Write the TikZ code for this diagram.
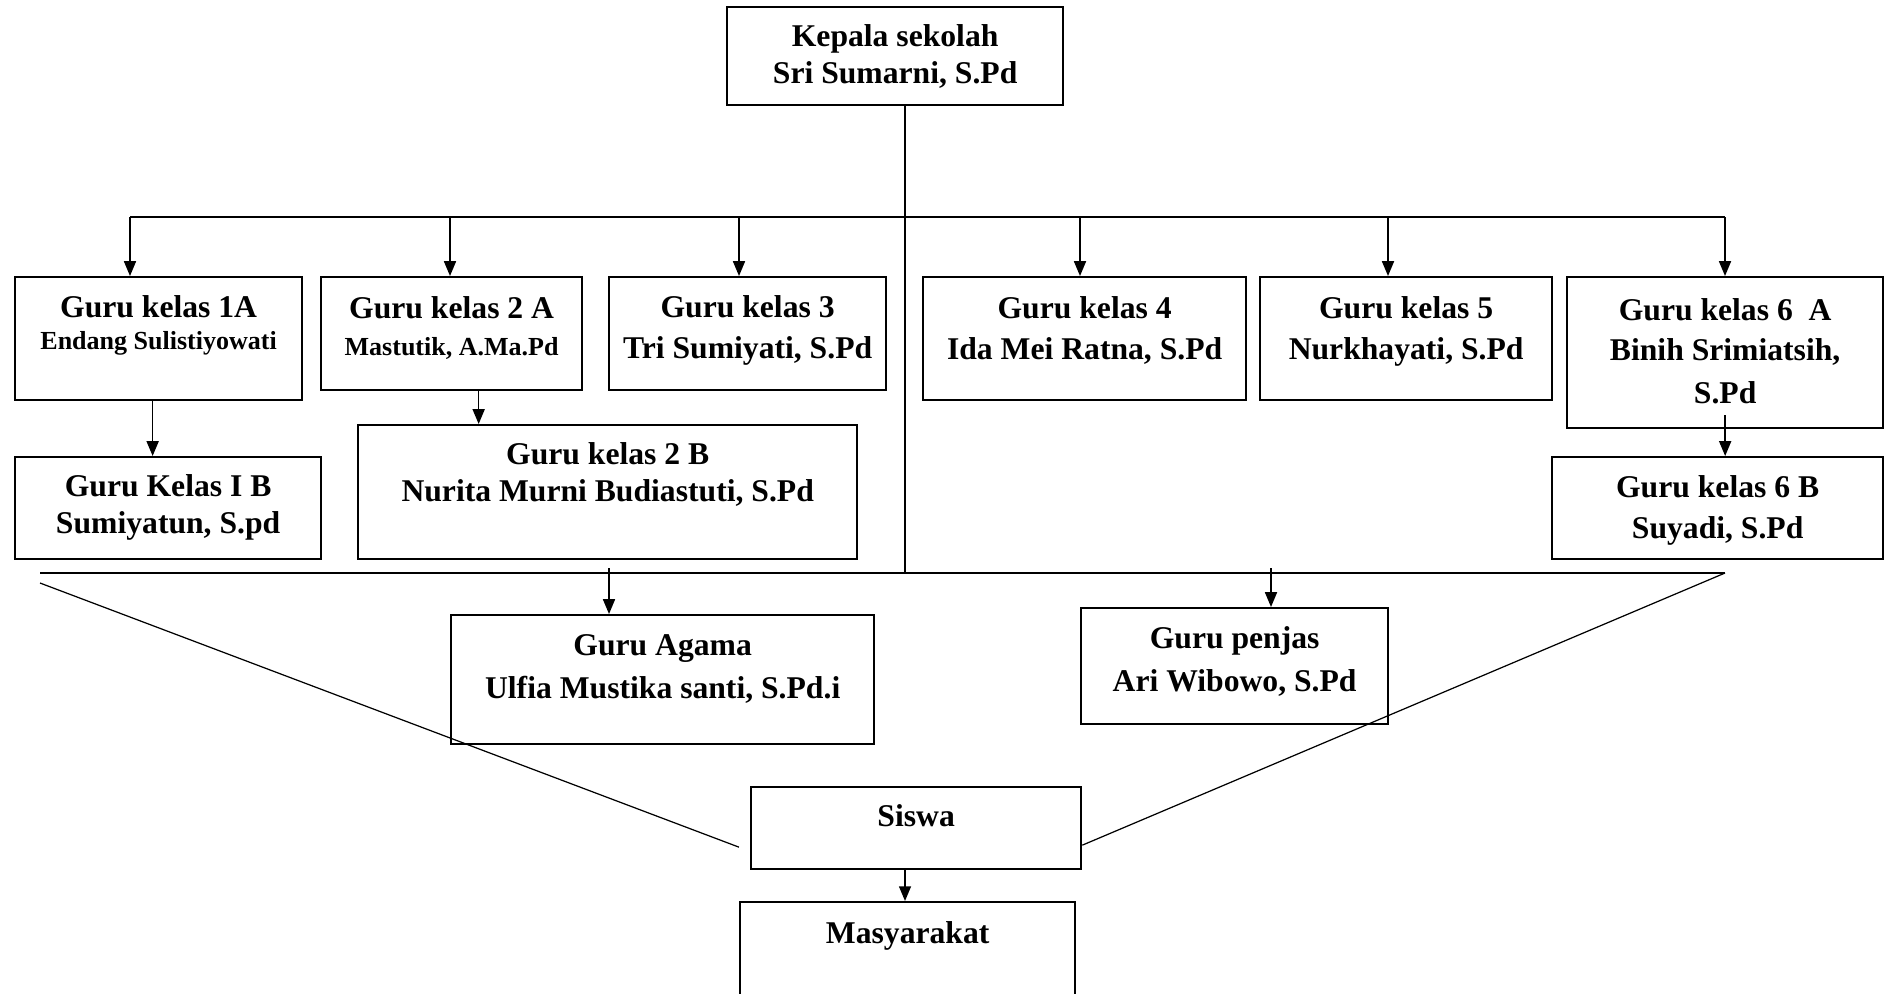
\documentclass[tikz,border=0pt]{standalone}
\usepackage{fontspec}
\setmainfont{Liberation Serif}
\usetikzlibrary{arrows.meta,calc}
\tikzset{
  box/.style={draw, line width=0.6pt, anchor=north west, align=center, inner sep=0pt, font=\fontsize{9}{11.5}\selectfont\bfseries},
  arrow/.style={-{Triangle[length=4.2pt,width=3.4pt]}, line width=0.45pt},
  link/.style={line width=0.45pt},
  bus/.style={line width=0.8pt}
}
\newcommand{\smalltxt}{\fontsize{7.4}{9}\selectfont}
\begin{document}
\begin{tikzpicture}[x=0.01cm, y=-0.01cm]
  \useasboundingbox (0,0) rectangle (1888,993);

  \node[box, minimum width=3.36cm, text height=0.76cm, text depth=0.22cm] (kepala) at (726,6) {Kepala sekolah\\[-1.2pt]Sri Sumarni, S.Pd};

  \node[box, minimum width=2.87cm, text height=0.72cm, text depth=0.51cm] (k1a) at (14,276) {Guru kelas 1A\\[-2.5pt]{\smalltxt Endang Sulistiyowati}};
  \node[box, minimum width=2.61cm, text height=0.78cm, text depth=0.35cm] (k2a) at (320,276) {Guru kelas 2 A\\[-1pt]{\smalltxt Mastutik, A.Ma.Pd}};
  \node[box, minimum width=2.77cm, text height=0.81cm, text depth=0.32cm] (k3) at (608,276) {Guru kelas 3\\Tri Sumiyati, S.Pd};
  \node[box, minimum width=3.23cm, text height=0.82cm, text depth=0.41cm] (k4) at (922,276) {Guru kelas 4\\Ida Mei Ratna, S.Pd};
  \node[box, minimum width=2.92cm, text height=0.82cm, text depth=0.41cm] (k5) at (1259,276) {Guru kelas 5\\Nurkhayati, S.Pd};
  \node[box, minimum width=3.16cm, text height=1.26cm, text depth=0.25cm] (k6a) at (1566,276) {Guru kelas 6~~A\\Binih Srimiatsih,\\[0.5pt]S.Pd};

  \node[box, minimum width=3.06cm, text height=0.76cm, text depth=0.26cm] (k1b) at (14,456) {Guru Kelas I B\\[-1pt]Sumiyatun, S.pd};
  \node[box, minimum width=4.99cm, text height=0.76cm, text depth=0.58cm] (k2b) at (357,424) {Guru kelas 2 B\\[-1pt]Nurita Murni Budiastuti, S.Pd};
  \node[box, minimum width=3.31cm, text height=0.81cm, text depth=0.21cm] (k6b) at (1551,456) {Guru kelas 6 B\\Suyadi, S.Pd};

  \node[box, minimum width=4.23cm, text height=0.83cm, text depth=0.46cm] (agama) at (450,614) {Guru Agama\\[0.5pt]Ulfia Mustika santi, S.Pd.i};
  \node[box, minimum width=3.07cm, text height=0.83cm, text depth=0.33cm] (penjas) at (1080,607) {Guru penjas\\[0.5pt]Ari Wibowo, S.Pd};

  \node[box, minimum width=3.30cm, text height=0.39cm, text depth=0.43cm] (siswa) at (750,786) {Siswa};
  \node[box, minimum width=3.35cm, text height=0.41cm, text depth=0.90cm] (masy) at (739,901) {Masyarakat};

  \coordinate (b1) at (130,217);
  \coordinate (b2) at (450,217);
  \coordinate (b3) at (739,217);
  \coordinate (b4) at (1080,217);
  \coordinate (b5) at (1388,217);
  \coordinate (b6) at (1725,217);
  \coordinate (stem) at (905,573);
  \coordinate (l1) at (40,573);
  \coordinate (l2) at (1725,573);
  \coordinate (ag) at (609,573);
  \coordinate (pj) at (1271,573);
  \coordinate (d1) at (40,583);

  \draw[link, line width=0.3pt] (stem |- kepala.south) -- (stem);
  \draw[link, line width=0.65pt] (b1) -- (b6);
  \foreach \b/\k in {b1/k1a, b2/k2a, b3/k3, b4/k4, b5/k5, b6/k6a}
    \draw[arrow] (\b) -- (\b |- \k.north);

  \draw[arrow] ([xshift=-0.06cm]k1a.south) -- ([xshift=-0.06cm]k1a.south |- k1b.north);
  \draw[arrow] ([xshift=0.27cm]k2a.south) -- ([xshift=0.27cm]k2a.south |- k2b.north);
  \draw[arrow] ([yshift=0.14cm]k6a.south) -- (k6a.south |- k6b.north);

  \draw[bus] (l1) -- (l2);
  \draw[arrow] ([yshift=0.05cm]ag) -- (ag |- agama.north);
  \draw[arrow] ([yshift=0.05cm]pj) -- (pj |- penjas.north);

  \draw[link, line width=0.35pt] (d1) -- ([shift={(-11,-23)}]siswa.south west);
  \draw[link, line width=0.35pt] (l2) -- ([shift={(0,-25)}]siswa.south east);
  \draw[arrow] (stem |- siswa.south) -- (stem |- masy.north);
\end{tikzpicture}
\end{document}
